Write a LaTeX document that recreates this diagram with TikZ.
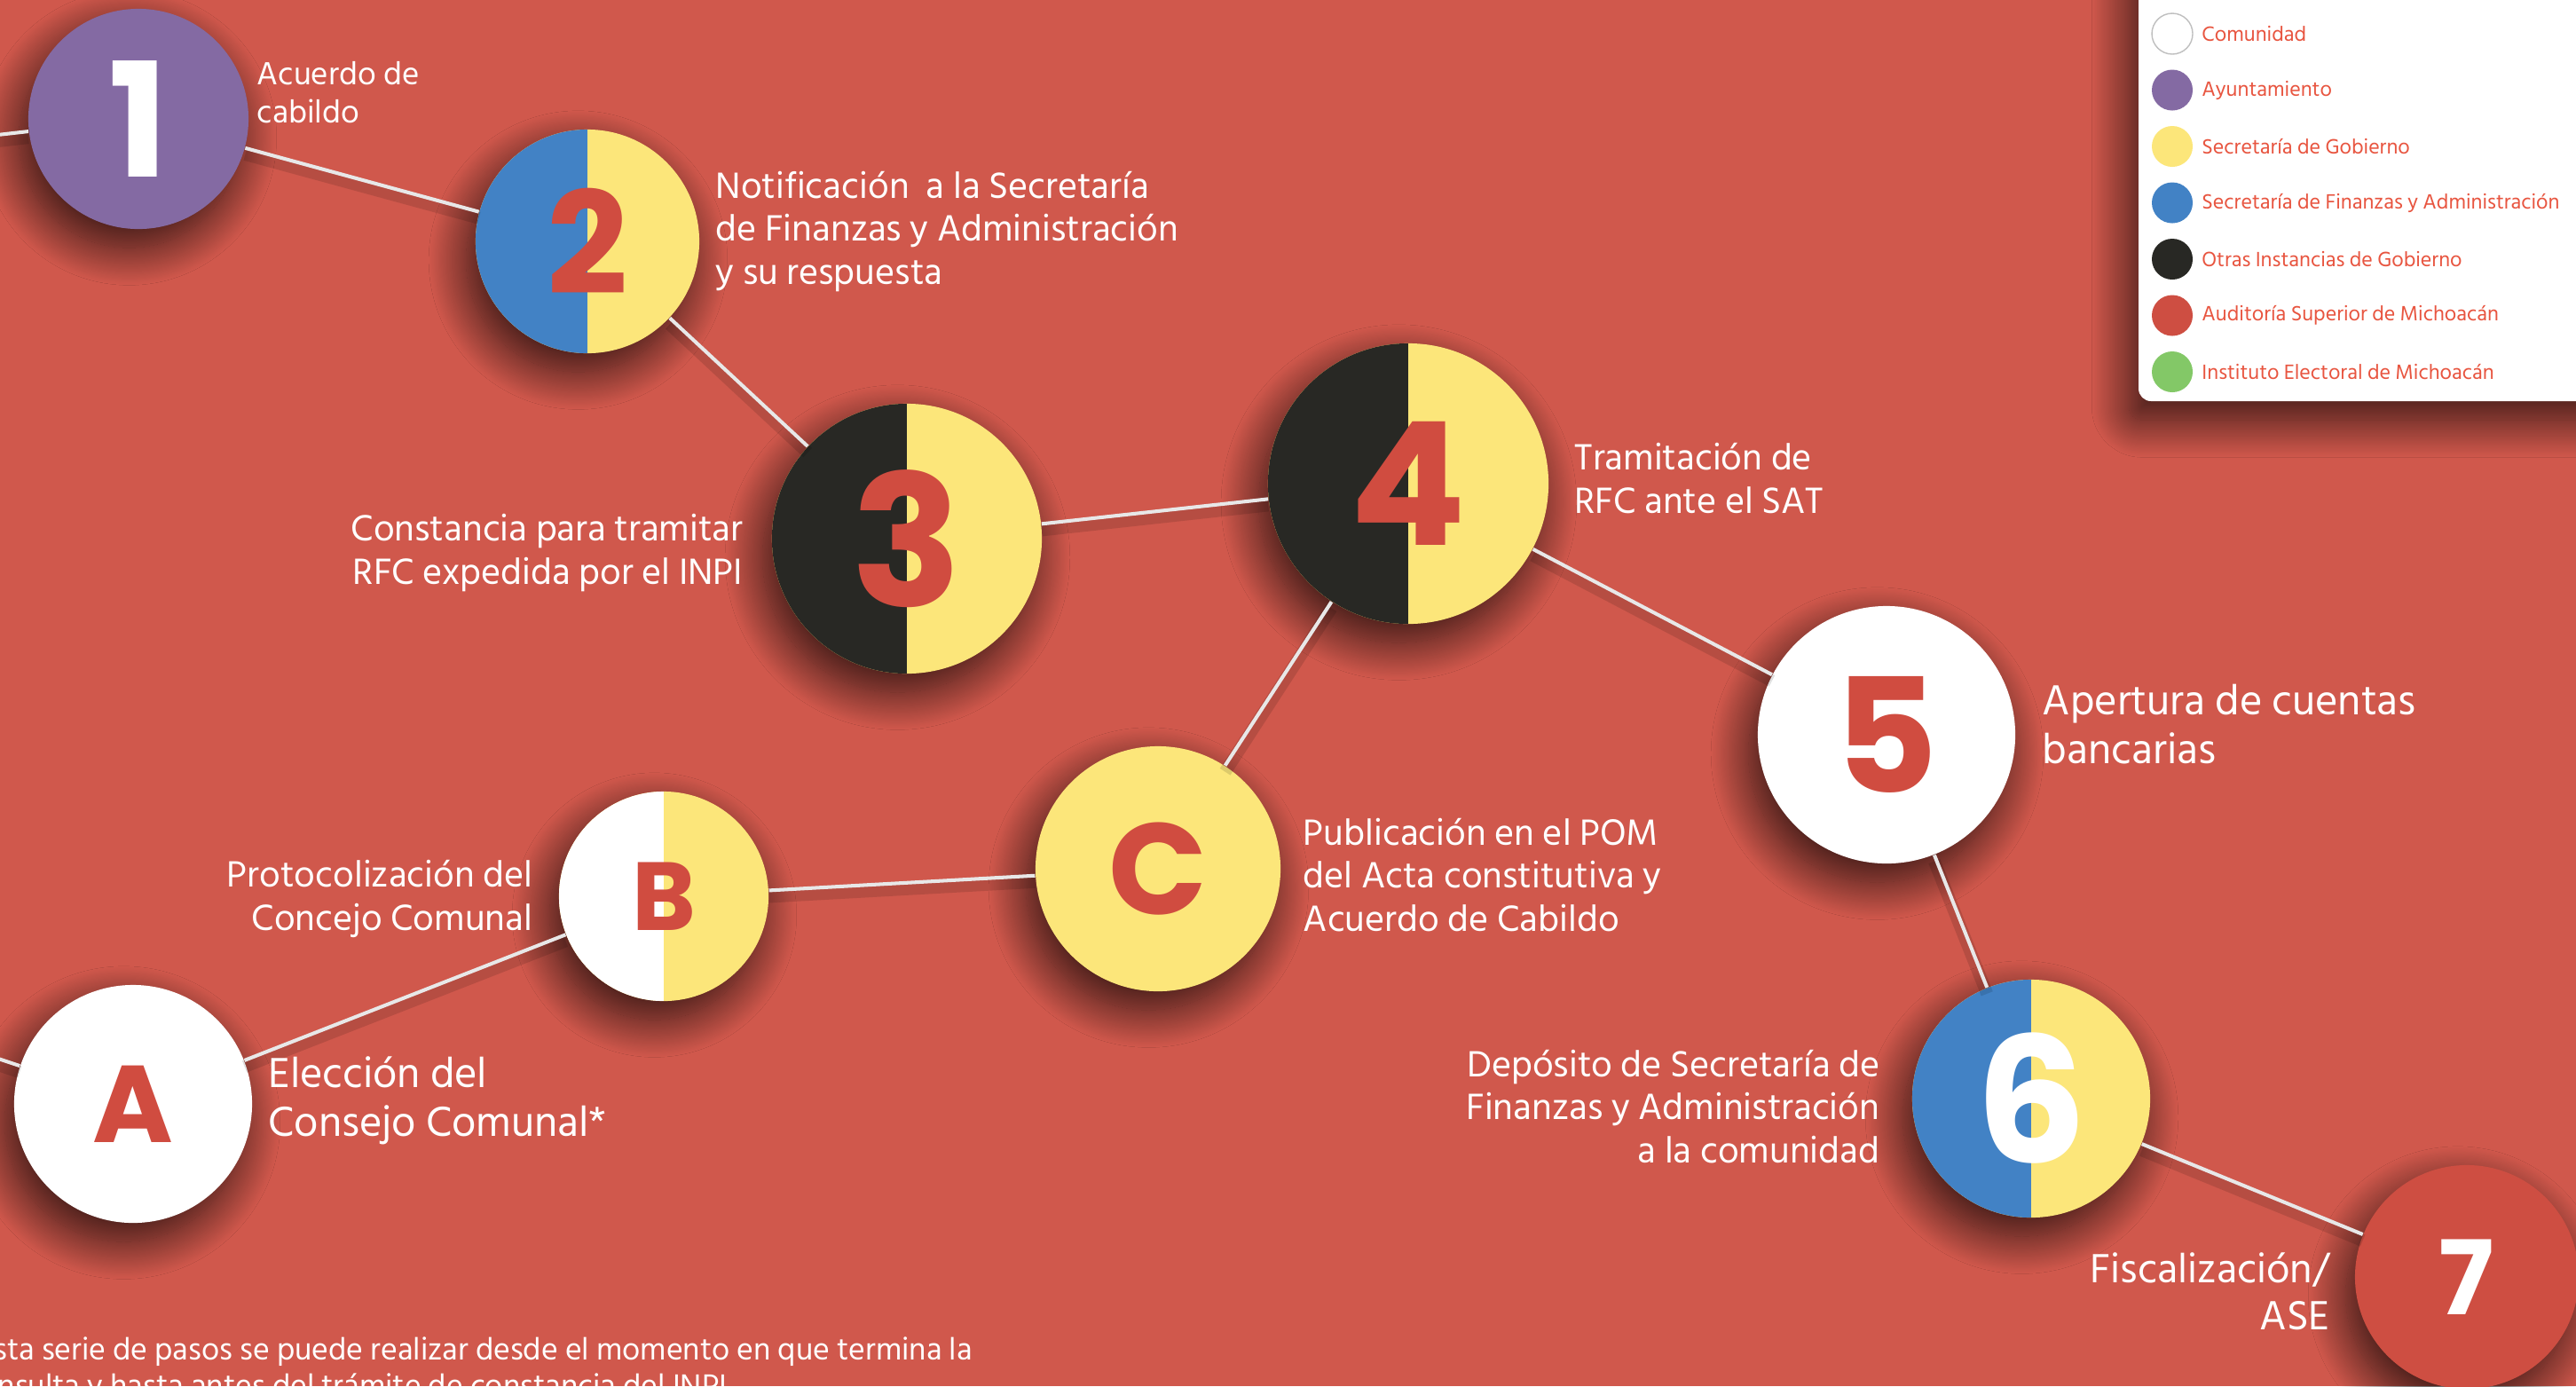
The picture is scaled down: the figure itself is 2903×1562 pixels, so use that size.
\documentclass[tikz,border=0pt]{standalone}
\usepackage{fontspec}
\setmainfont{Hind Siliguri}
\newfontfamily\cifra{Poppins}
\usetikzlibrary{positioning,shadows.blur}

\definecolor{fondo}{RGB}{208,88,76}
\definecolor{morado}{RGB}{132,106,163}
\definecolor{amarillo}{RGB}{252,230,122}
\definecolor{azul}{RGB}{66,130,197}
\definecolor{negro}{RGB}{40,40,36}
\definecolor{rojo}{RGB}{206,78,66}
\definecolor{verde}{RGB}{131,200,103}
\definecolor{cifraroja}{RGB}{208,76,64}
\definecolor{textoley}{RGB}{232,85,64}
\definecolor{linea}{RGB}{232,232,232}

\tikzset{
	sombra/.style={blur shadow={shadow xshift=-3pt, shadow yshift=-6pt, shadow blur radius=12pt, shadow blur steps=40, shadow opacity=75}},
	paso/.style={circle, minimum size=#1, inner sep=0pt, sombra},
	mitad/.style={path picture={\fill[#1] (path picture bounding box.south west) rectangle (path picture bounding box.north);}},
	numero/.style={font=\cifra\bfseries\fontsize{#1}{#1}\selectfont},
	etiqueta/.style={text=white, inner sep=0pt, font=\fontsize{12}{13.7}\selectfont},
	grande/.style={font=\fontsize{13.8}{15.4}\selectfont},
	enlace/.style={draw=linea, line width=1.15pt, preaction={draw=black, draw opacity=0.12, line width=4pt, transform canvas={yshift=-2pt}}},
}

\begin{document}
\begin{tikzpicture}[x=0.01cm, y=-0.01cm]
		\useasboundingbox (0,0) rectangle (2903,1562);
		\fill[fondo] (0,0) rectangle (2903,1562);

		% pasos
		\node[paso=2.48cm, fill=morado, text=white, numero=51] (n1) at (156,134) {1};
		\node[paso=2.52cm, fill=amarillo, mitad=azul, text=cifraroja, numero=45.5] (n2) at (662,272) {2};
		\node[paso=3.04cm, fill=amarillo, mitad=negro, text=cifraroja, numero=58.6] (n3) at (1022,607) {3};
		\node[paso=3.16cm, fill=amarillo, mitad=negro, text=cifraroja, numero=55] (n4) at (1587,545) {4};
		\node[paso=2.90cm, fill=white, text=cifraroja, numero=51] (n5) at (2126,828) {5};
		\node[paso=2.68cm, fill=amarillo, mitad=azul, text=white, numero=56] (n6) at (2289,1238) {6};
		\node[paso=2.52cm, fill=rojo, text=white, numero=33] (n7) at (2780,1439) {7};
		\node[paso=2.68cm, fill=white, text=cifraroja, numero=35] (nA) at (150,1244) {A};
		\node[paso=2.36cm, fill=amarillo, mitad=white, text=cifraroja, numero=31] (nB) at (748,1010) {B};
		\node[paso=2.76cm, fill=amarillo, text=cifraroja, numero=41.5] (nC) at (1305,979) {C};

		\coordinate (in1) at (-100,163);
		\coordinate (inA) at (-100,1160);
		\foreach \s/\t in {in1/n1, n1/n2, n2/n3, n3/n4, n4/n5, n5/n6, n6/n7, inA/nA, nA/nB, nB/nC, nC/n4} {
			\draw[enlace] (\s) -- (\t);
		}

		% textos
		\node[etiqueta, font=\fontsize{10.5}{12}\selectfont, align=left, anchor=base west] (t1) at (289,138) {Acuerdo de\\cabildo};
		\node[etiqueta, align=left, anchor=base west] (t2) at (806,320) {Notificación\ \ a la Secretaría\\de Finanzas y Administración\\y su respuesta};
		\node[etiqueta, align=right, anchor=base east] (t3) at (838,658) {Constancia para tramitar\\RFC expedida por el INPI};
		\node[etiqueta, align=left, anchor=base west] (t4) at (1774,578) {Tramitación de\\RFC ante el SAT};
		\node[etiqueta, grande, align=left, anchor=base west] (t5) at (2301,860) {Apertura de cuentas\\bancarias};
		\node[etiqueta, align=right, anchor=base east] (t6) at (2119,1310) {Depósito de Secretaría de\\Finanzas y Administración\\a la comunidad};
		\node[etiqueta, grande, font=\fontsize{13.4}{14.8}\selectfont, align=right, anchor=base east] (t7) at (2626,1498) {Fiscalización/\\ASE};
		\node[etiqueta, grande, align=left, anchor=base west] (tA) at (302,1280) {Elección del\\Consejo Comunal*};
		\node[etiqueta, align=right, anchor=base east] (tB) at (601,1048) {Protocolización del\\Concejo Comunal};
		\node[etiqueta, align=left, anchor=base west] (tC) at (1468,1049) {Publicación en el POM\\del Acta constitutiva y\\Acuerdo de Cabildo};
		\node[etiqueta, font=\fontsize{10.2}{11.4}\selectfont, align=left, anchor=base west] (nota) at (-40,1573) {*Esta serie de pasos se puede realizar desde el momento en que termina la\\consulta y hasta antes del trámite de constancia del INPI};

		% leyenda
		\fill[white, rounded corners=4pt, sombra] (2410,-40) rectangle (2960,452);
		\foreach \c/\t [count=\i from 0] in {white/Comunidad, morado/Ayuntamiento, amarillo/Secretaría de Gobierno, azul/Secretaría de Finanzas y Administración, negro/Otras Instancias de Gobierno, rojo/Auditoría Superior de Michoacán, verde/Instituto Electoral de Michoacán} {
			\node[circle, fill=\c, minimum size=0.46cm, inner sep=0pt] (c\i) at (2448,38+63.5*\i) {};
			\node[right=0.09cm of c\i, inner sep=0pt, text=textoley, font=\fontsize{6.8}{8}\selectfont] (l\i) {\t};
		}
		\draw[black!25, line width=0.4pt] (c0) circle (23);
	\end{tikzpicture}
\end{document}
